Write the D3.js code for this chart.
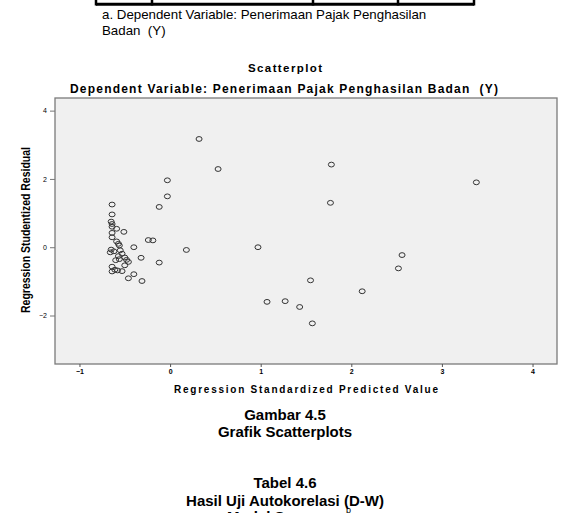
<!DOCTYPE html>
<html lang="id">
<head>
<meta charset="UTF-8">
<title>Scatterplot</title>
<script src="https://d3js.org/d3.v7.min.js"></script>
<style>
  body { margin: 0; background: #fff; }
  svg { display: block; }
  text { font-family: "Liberation Sans", Arial, sans-serif; fill: #000; }
</style>
</head>
<body>
<svg width="564" height="513"></svg>
<script>
// standardized predicted value (x) and studentized residual (y)
const predicted = [
  0.32, 0.53, -0.03, -0.03, -0.12, 1.78, 3.38, 1.77, 2.56, 2.52,
  1.55, 2.12, 1.27, 1.07, 1.43, 1.57, 0.97, 0.18, -0.24, -0.19,
  -0.40, -0.32, -0.12, -0.40, -0.46, -0.31, -0.64, -0.64, -0.65, -0.64,
  -0.64, -0.59, -0.51, -0.64, -0.64, -0.59, -0.57, -0.56, -0.65, -0.62,
  -0.55, -0.53, -0.66, -0.57, -0.50, -0.60, -0.48, -0.46, -0.50, -0.64,
  -0.61, -0.64, -0.58, -0.53, -0.56
];
const residual = [
  3.17, 2.29, 1.96, 1.49, 1.18, 2.42, 1.90, 1.30, -0.23, -0.62,
  -0.97, -1.29, -1.58, -1.60, -1.75, -2.23, 0.00, -0.08, 0.21, 0.20,
  0.00, -0.31, -0.45, -0.79, -0.91, -0.99, 1.25, 0.96, 0.75, 0.68,
  0.60, 0.54, 0.45, 0.42, 0.29, 0.17, 0.10, 0.05, -0.07, -0.12,
  -0.09, -0.19, -0.15, -0.26, -0.30, -0.38, -0.37, -0.43, -0.53, -0.57,
  -0.66, -0.71, -0.68, -0.70, -0.35
];
const xTicks = [-1, 0, 1, 2, 3, 4];
const yTicks = [-2, 0, 2, 4];
const tableCols = [96, 152, 313, 398, 474];

const svg = d3.select("svg");

// leftover bottom of the previous table
svg.append("line").attr("x1", tableCols[0]).attr("x2", tableCols[4])
  .attr("y1", 4.3).attr("y2", 4.3).attr("stroke", "#000").attr("stroke-width", 3);
svg.selectAll(".col").data(tableCols).enter().append("line")
  .attr("x1", d => d).attr("x2", d => d).attr("y1", 0).attr("y2", 5.5)
  .attr("stroke", "#000").attr("stroke-width", 2.5);

svg.append("text").attr("x", 102).attr("y", 19).style("font-size", "13.3px")
  .text("a. Dependent Variable: Penerimaan Pajak Penghasilan");
svg.append("text").attr("x", 102).attr("y", 35.3).style("font-size", "13.3px")
  .attr("xml:space", "preserve").text("Badan  (Y)");

// chart titles
svg.append("text").attr("x", 285).attr("y", 71.5).attr("text-anchor", "middle")
  .style("font-size", "11.5px").style("font-weight", "bold")
  .attr("textLength", 74).attr("lengthAdjust", "spacing").text("Scatterplot");
svg.append("text").attr("x", 284).attr("y", 92.5).attr("text-anchor", "middle")
  .style("font-size", "12px").style("font-weight", "bold")
  .attr("xml:space", "preserve")
  .attr("textLength", 428).attr("lengthAdjust", "spacing")
  .text("Dependent Variable: Penerimaan Pajak Penghasilan Badan  (Y)");

const x = d3.scaleLinear().domain([-1.27, 4.27]).range([55, 557]);
const y = d3.scaleLinear().domain([-3.42, 4.37]).range([364, 98]);

svg.append("rect").attr("x", 55).attr("y", 98).attr("width", 502).attr("height", 266)
  .attr("fill", "#f0f0f0").attr("stroke", "#7a7a7a").attr("stroke-width", 1.3);

const xAxis = svg.append("g").attr("transform", "translate(0,364)")
  .call(d3.axisBottom(x).tickValues(xTicks).tickSize(3).tickPadding(2).tickFormat(d3.format("d")));
xAxis.select(".domain").remove();
xAxis.selectAll("line").attr("stroke", "#555");
xAxis.selectAll("text").style("font-size", "7px").style("font-weight", "bold")
  .style("font-family", "Liberation Sans, Arial, sans-serif").attr("fill", "#222");

const yAxis = svg.append("g").attr("transform", "translate(55,0)")
  .call(d3.axisLeft(y).tickValues(yTicks).tickSize(5).tickPadding(3).tickFormat(d3.format("d")));
yAxis.select(".domain").remove();
yAxis.selectAll("line").attr("stroke", "#777");
yAxis.selectAll("text").style("font-size", "7px")
  .style("font-family", "Liberation Sans, Arial, sans-serif").attr("fill", "#777");

svg.append("text").attr("x", 306).attr("y", 392.5).attr("text-anchor", "middle")
  .style("font-size", "10px").style("font-weight", "bold")
  .attr("textLength", 264).attr("lengthAdjust", "spacing")
  .text("Regression Standardized Predicted Value");

svg.append("text").attr("transform", "translate(29.5,230) rotate(-90)")
  .attr("text-anchor", "middle").style("font-size", "12px").style("font-weight", "bold")
  .attr("textLength", 166).attr("lengthAdjust", "spacingAndGlyphs")
  .text("Regression Studentized Residual");

// points
svg.append("g").selectAll("ellipse").data(predicted).enter().append("ellipse")
  .attr("cx", d => x(d)).attr("cy", (d, i) => y(residual[i]))
  .attr("rx", 3).attr("ry", 2.4)
  .attr("fill", "none").attr("stroke", "#333").attr("stroke-width", 1);

// captions below
const cap = [
  ["Gambar 4.5", 419.5],
  ["Grafik Scatterplots", 437],
  ["Tabel 4.6", 488],
  ["Hasil Uji Autokorelasi (D-W)", 505.5],
  ["Model Summary", 522]
];
svg.selectAll(".cap").data(cap).enter().append("text")
  .attr("x", 285).attr("y", d => d[1]).attr("text-anchor", "middle")
  .style("font-size", "15px").style("font-weight", "bold").text(d => d[0]);
svg.append("text").attr("x", 346).attr("y", 513).style("font-size", "9px").text("b");
</script>
</body>
</html>
